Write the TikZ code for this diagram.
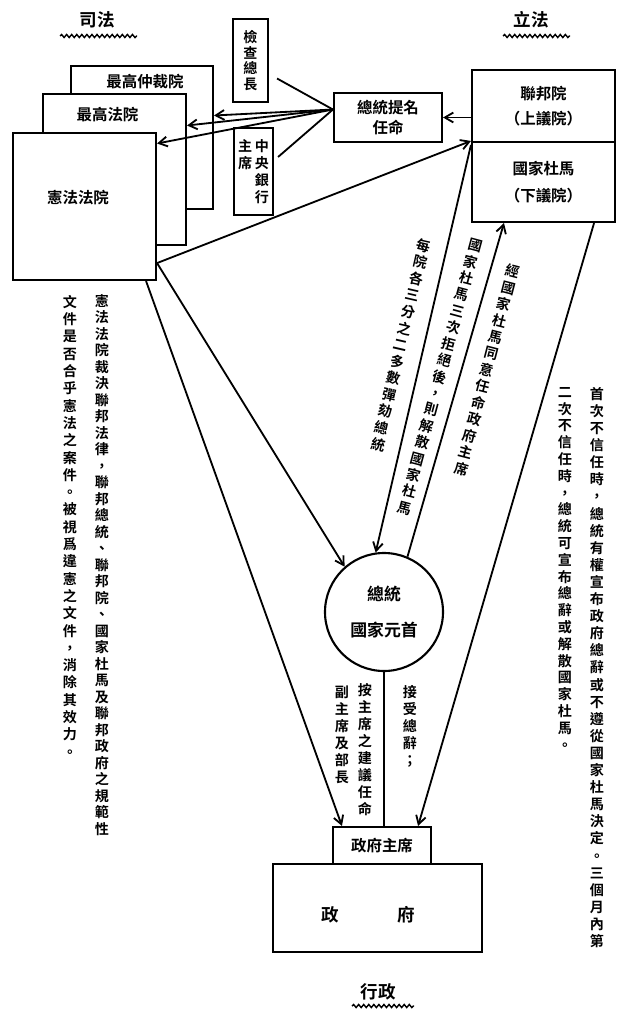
\documentclass[tikz,border=0pt]{standalone}
\usepackage{fontspec}
\setmainfont{Noto Sans CJK TC}[BoldFont={Noto Sans CJK TC Bold}]
\usetikzlibrary{arrows.meta, decorations.pathmorphing}

\newdimen\pxu \pxu=0.025cm

\makeatletter
\newcommand\vtext[2][17]{\vtop{\baselineskip=#1\pxu\lineskiplimit=-20pt\@tfor\vch:=#2\do{\hbox to 1em{\hss\vch\hss}}}}
\makeatother

\begin{document}
\begin{tikzpicture}[x=0.025cm, y=-0.025cm,
  box/.style={draw, line width=1.5pt, fill=white, inner sep=0pt},
  lbl/.style={font=\fontsize{11}{14}\selectfont\bfseries, inner sep=0pt, align=center},
  vert/.style={font=\fontsize{10}{12}\selectfont\bfseries, inner sep=0pt},
  head/.style={font=\fontsize{12.5}{14}\selectfont\bfseries, inner sep=0pt},
  link/.style={line width=1.3pt},
  arr/.style={link, -{Straight Barb[length=6pt, width=7pt]}},
  wave/.style={line width=1pt, decorate, decoration={snake, amplitude=1.1pt, segment length=3.6pt}}]

\useasboundingbox (0,0) rectangle (618,1012);

% headings
\node [head] (judic) at (97,20) {司法};
\draw [wave] (60,36) -- (137,36);
\node [head] (legis) at (531,20) {立法};
\draw [wave] (503,36) -- (570,36);
\node [head] (exec) at (378,992) {行政};
\draw [wave] (352,1006) -- (414,1006);

% courts, back to front
\node [box, minimum width=142\pxu, minimum height=143\pxu] (arbit) at (142,137.5) {};
\node [lbl] (arbittxt) at (145,82) {最高仲裁院};
\node [box, minimum width=143\pxu, minimum height=151\pxu] (supreme) at (114.5,169.5) {};
\node [lbl] (supremetxt) at (107.5,115) {最高法院};
\node [box, minimum width=143\pxu, minimum height=147\pxu] (constit) at (84.5,206.5) {};
\node [lbl] (constittxt) at (78,198) {憲法法院};

\node [box, vert, minimum width=35\pxu, minimum height=83\pxu] (prosec) at (250.5,60.5) {\vtext[15.5]{檢查總長}};
\node [box, vert, minimum width=39\pxu, minimum height=87\pxu] (bank) at (253.5,171.5) {\vtext{主席}\hspace{2pt}\vtext{中央銀行}};
\node [box, lbl, minimum width=108\pxu, minimum height=49\pxu] (nominate) at (388,117.5) {總統提名\\任命};

% parliament
\node [box, lbl, font=\fontsize{11}{18}\selectfont\bfseries, minimum width=143\pxu, minimum height=72\pxu] (council) at (543.5,106) {聯邦院\\（上議院）};
\node [box, lbl, font=\fontsize{11}{19}\selectfont\bfseries, minimum width=143\pxu, minimum height=80\pxu] (duma) at (543.5,182) {國家杜馬\\（下議院）};

% president and government
\node [circle, draw, line width=1.5pt, minimum size=118\pxu, inner sep=0pt, align=center, font=\fontsize{12}{26}\selectfont\bfseries] (pres) at (384,612) {總統\\國家元首};
\node [box, lbl, minimum width=98\pxu, minimum height=37\pxu] (chair) at (382,845.5) {政府主席};
\node [box, minimum width=209\pxu, minimum height=88\pxu] (govt) at (377.5,908) {};
\node [head] (govttxt) at (368.5,915) {政\hspace{1.47cm}府};

% notes
\node [vert, anchor=north] (courtnoteA) at (102,294) {\vtext[16.5]{憲法法院裁決聯邦法律，聯邦總統、聯邦院、國家杜馬及聯邦政府之規範性}};
\node [vert, anchor=north] (courtnoteB) at (70,295) {\vtext[17.3]{文件是否合乎憲法之案件。被視爲違憲之文件，消除其效力。}};
\node [vert, anchor=north] (trustA) at (597,387) {\vtext[17.1]{首次不信任時，總統有權宣布政府總辭或不遵從國家杜馬決定。三個月內第}};
\node [vert, anchor=north] (trustB) at (565,387) {\vtext[16.8]{二次不信任時，總統可宣布總辭或解散國家杜馬。}};

\node [vert, rotate=-13] (impeach) at (401,345) {\vtext{每院各三分之二多數彈劾總統}};
\node [vert, rotate=-15] (dissolve) at (440,377) {\vtext{國家杜馬三次拒絕後，則解散國家杜馬}};
\node [vert, rotate=-14.5] (consent) at (487,370) {\vtext{經國家杜馬同意任命政府主席}};

\node [vert, anchor=north] (appointA) at (342,686) {\vtext{副主席及部長}};
\node [vert, anchor=north] (appointB) at (365,683) {\vtext{按主席之建議任命}};
\node [vert, anchor=north] (resign) at (410,685) {\vtext{接受總辭；}};

% connectors
\coordinate (apex) at ([yshift=8\pxu]nominate.west);
\draw [arr] (council.west |- nominate.east) -- (nominate.east);
\draw [arr] (apex) -- ([yshift=22\pxu]arbit.east);
\draw [arr] (apex) -- ([yshift=44\pxu]supreme.east);
\draw [arr] (apex) -- ([yshift=63\pxu]constit.east);
\draw [link] (apex) -- ([shift={(8,18)}]prosec.east);
\draw [link] (apex) -- ([shift={(4,-14.5)}]bank.east);

\coordinate (cfoot) at ([yshift=18\pxu]constit.south east);
\draw [arr] (cfoot) -- (duma.north west);
\draw [arr] (cfoot) -- (pres.131);
\draw [arr] ([xshift=-11\pxu]constit.south east) -- ([xshift=10\pxu]chair.north west);

\draw [arr] ([yshift=-4\pxu]duma.north west) -- (pres.98);
\draw [arr] (pres.67) -- ([xshift=33\pxu]duma.south west);
\draw [arr] ([xshift=-22\pxu]duma.south east) -- ([xshift=-14\pxu]chair.north east);
\draw [link] (pres.south) -- (pres.south |- chair.north);

\end{tikzpicture}
\end{document}
